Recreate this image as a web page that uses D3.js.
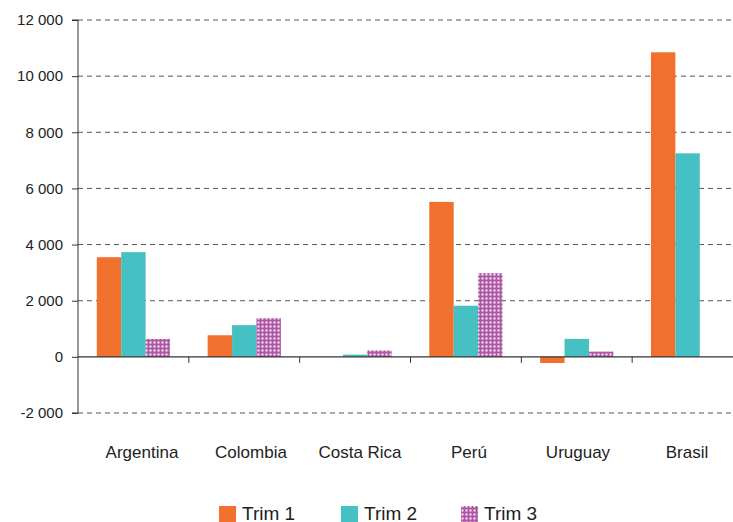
<!DOCTYPE html>
<html><head><meta charset="utf-8">
<script src="https://cdn.jsdelivr.net/npm/d3@7"></script>
<style>body{margin:0;background:#fff}svg{display:block;font-family:"Liberation Sans",Arial,sans-serif}</style>
</head><body><svg id="c" width="733" height="522"></svg>
<script>
const categories = ["Argentina","Colombia","Costa Rica","Perú","Uruguay","Brasil"];
const seriesNames = ["Trim 1","Trim 2","Trim 3"];
const trim1 = [3550, 770, 0, 5520, -220, 10850];
const trim2 = [3730, 1130, 80, 1820, 640, 7250];
const trim3 = [640, 1380, 230, 2980, 190, 0];
const yTicks = [-2000, 0, 2000, 4000, 6000, 8000, 10000, 12000];
const colors = ["#f2702d", "#45c1c4", "#ae57a4"];

const svg = d3.select("#c");
const defs = svg.append("defs");
const pat = defs.append("pattern").attr("id","p3").attr("patternUnits","userSpaceOnUse")
  .attr("width",4).attr("height",4);
pat.append("rect").attr("width",4).attr("height",4).attr("fill",colors[2]);
pat.append("rect").attr("x",1.5).attr("y",1.5).attr("width",2).attr("height",2).attr("fill","#fff").attr("opacity",0.9);
const fills = [colors[0], colors[1], "url(#p3)"];

const x0 = d3.scaleBand().domain(categories).range([78, 743]).paddingInner(0).paddingOuter(0);
const x1 = d3.scaleBand().domain(seriesNames).range([0, x0.bandwidth()]).paddingInner(0).paddingOuter(0.77);
const xLab = d3.scalePoint().domain(categories).range([142, 687]);
const y = d3.scaleLinear().domain([-2000, 12000]).range([413, 20]);

const fmt = v => d3.format(",")(v).replace(/,/g, "\u00a0").replace("\u2212", "-");

// gridlines
svg.append("g").selectAll("line").data(yTicks.filter(t => t !== 0)).join("line")
  .attr("x1", 78).attr("x2", 733).attr("y1", d => y(d)).attr("y2", d => y(d))
  .attr("stroke", "#555").attr("stroke-width", 1).attr("stroke-dasharray", "5,4");

const series = [trim1, trim2, trim3];
const g = svg.append("g");
series.forEach((vals, si) => {
  g.selectAll(null).data(vals.map((v, i) => ({c: categories[i], v}))).join("rect")
    .attr("x", d => x0(d.c) + x1(seriesNames[si]))
    .attr("width", x1.bandwidth())
    .attr("y", d => y(Math.max(0, d.v)))
    .attr("height", d => Math.abs(y(d.v) - y(0)))
    .attr("fill", fills[si]);
});

// y axis
const yAxis = d3.axisLeft(y).tickValues(yTicks).tickSize(6).tickPadding(9).tickFormat(fmt);
const ya = svg.append("g").attr("transform", "translate(78,0)").call(yAxis);
ya.select(".domain").attr("stroke", "#333").attr("d", `M-6,${y(12000)}H0V${y(-2000)}H-6`);
ya.selectAll(".tick line").attr("stroke", "#333");
ya.selectAll(".tick text").attr("font-size", 15).attr("fill", "#222").attr("font-family", "Liberation Sans, Arial, sans-serif");

// x axis at zero
const xa = svg.append("g").attr("transform", `translate(0,${y(0)})`);
xa.append("line").attr("x1", 78).attr("x2", 733).attr("stroke", "#333").attr("stroke-width", 1.2);
xa.selectAll("line.t").data(categories.slice(1)).join("line").attr("class","t")
  .attr("x1", d => x0(d)).attr("x2", d => x0(d)).attr("y1", 0).attr("y2", 6).attr("stroke", "#333");
svg.append("g").selectAll("text").data(categories).join("text")
  .attr("x", d => xLab(d)).attr("y", 458)
  .attr("text-anchor", "middle").attr("font-size", 17).attr("fill", "#222").text(d => d);

// legend
const legX = [219, 341, 461];
const lg = svg.append("g");
seriesNames.forEach((s, i) => {
  lg.append("rect").attr("x", legX[i]).attr("y", 506).attr("width", 17).attr("height", 16).attr("fill", fills[i]);
  lg.append("text").attr("x", legX[i] + 23).attr("y", 520).attr("font-size", 19).attr("fill", "#222").text(s);
});
</script></body></html>
